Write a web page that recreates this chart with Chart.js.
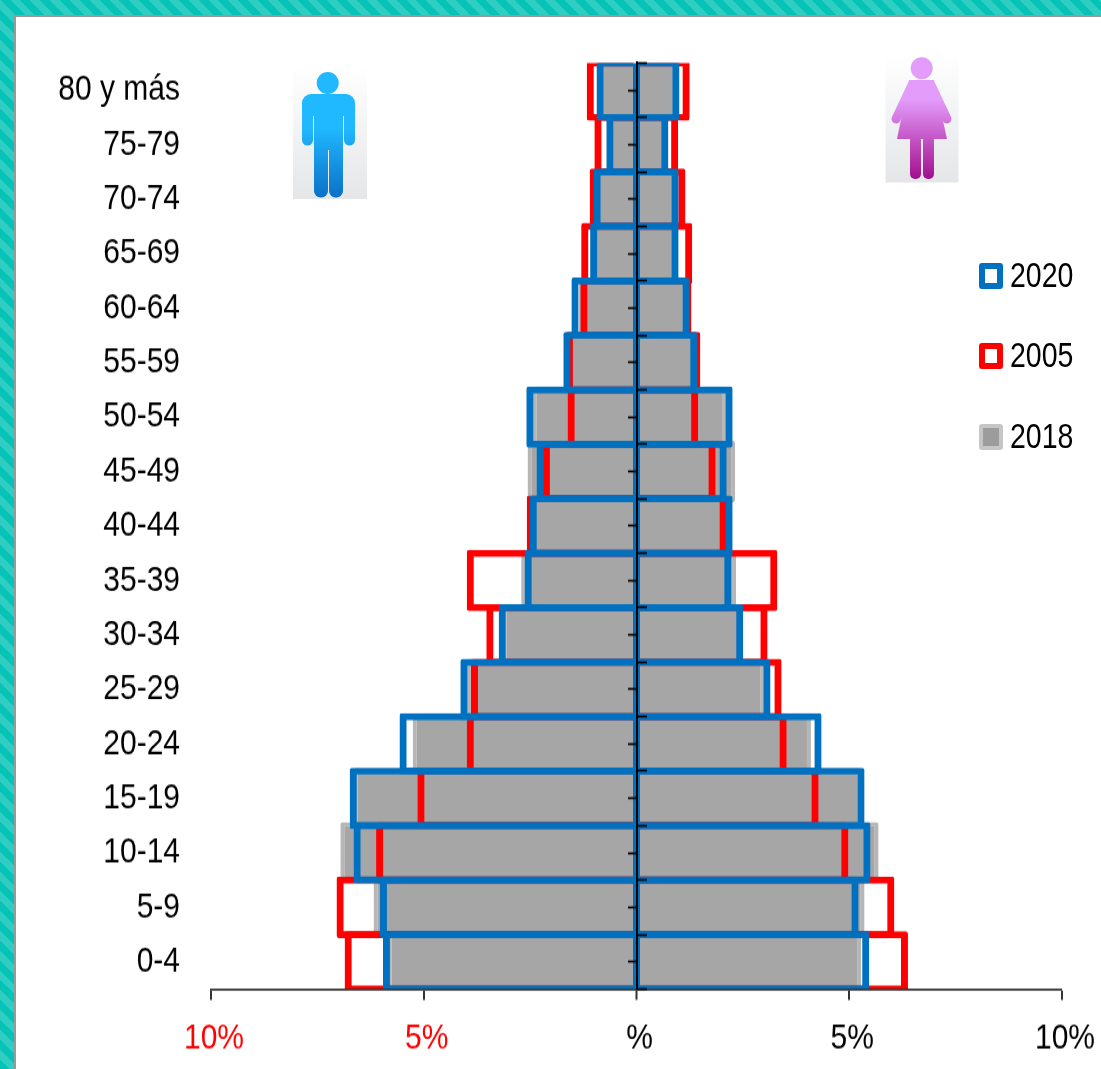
<!DOCTYPE html>
<html>
<head>
<meta charset="utf-8">
<style>
    html, body { margin: 0; padding: 0; width: 1101px; height: 1069px; overflow: hidden; }
    body { position: relative; background: repeating-linear-gradient(45deg, #05c4b7 0 7px, #2fcdc2 7px 14px); }
    #panel { position: absolute; left: 14px; top: 15px; width: 1087px; height: 1054px; box-sizing: border-box; background: #fff; border: solid #999; border-width: 2px 0 0 2px; }
    /* la imagen original esta estirada en vertical */
    #piramide { position: absolute; left: 0; top: 0; transform: scaleY(1.2011); transform-origin: 0 0; }
    #iconos { position: absolute; left: 0; top: 0; }
    .leyenda { position: absolute; left: 979px; height: 26px; font: 28.5px "Liberation Sans", sans-serif; line-height: 26px; color: #000; white-space: nowrap; }
    .leyenda i { position: absolute; left: 0; top: 0; width: 24px; height: 26px; box-sizing: border-box; border-radius: 3px; border: 6.5px solid; }
    .leyenda span { position: absolute; left: 31px; top: -1px; transform: scaleY(1.2); transform-origin: 0 50%; }
</style>
</head>
<body>
<div id="panel"></div>
<svg id="iconos" width="1101" height="1069" viewBox="0 0 1101 1069">
    <defs>
        <linearGradient id="fondo" x1="0" y1="0" x2="0" y2="1"><stop offset="0" stop-color="#fff"/><stop offset="1" stop-color="#e4e6e8"/></linearGradient>
        <linearGradient id="azul" gradientUnits="userSpaceOnUse" x1="0" y1="72" x2="0" y2="197"><stop offset="0.45" stop-color="#20b8ff"/><stop offset="1" stop-color="#0a72c8"/></linearGradient>
        <linearGradient id="lila" gradientUnits="userSpaceOnUse" x1="0" y1="57" x2="0" y2="178"><stop offset="0.35" stop-color="#e49cfb"/><stop offset="1" stop-color="#a3108f"/></linearGradient>
    </defs>
    <rect x="293" y="66" width="74" height="133" fill="url(#fondo)"/>
    <g fill="url(#azul)">
        <circle cx="327.7" cy="83" r="11"/>
        <rect x="302" y="94" width="53" height="22" rx="9"/>
        <rect x="302" y="100" width="11" height="45.5" rx="5.5"/>
        <rect x="344" y="100" width="11" height="45.5" rx="5.5"/>
        <rect x="314" y="100" width="29" height="50"/>
        <rect x="314" y="130" width="14" height="67.5" rx="6.5"/>
        <rect x="329" y="130" width="14" height="67.5" rx="6.5"/>
    </g>
    <rect x="885.5" y="53" width="73" height="129.5" fill="url(#fondo)"/>
    <g fill="url(#lila)">
        <circle cx="921.7" cy="68.3" r="11"/>
        <polygon points="909,80 934,80 947,139 897,139"/>
        <rect x="910" y="135" width="11" height="44" rx="5"/>
        <rect x="923" y="135" width="11" height="44" rx="5"/>
    </g>
    <g stroke="url(#lila)" stroke-width="9" stroke-linecap="round">
        <line x1="912" y1="85" x2="896" y2="119"/>
        <line x1="931" y1="85" x2="947" y2="119"/>
    </g>
</svg>
<canvas id="piramide" width="1101" height="890"></canvas>
<div id="leyendas"></div>

<script src="https://cdn.jsdelivr.net/npm/chart.js@4"></script>
<script>
const grupos = ['80 y más', '75-79', '70-74', '65-69', '60-64', '55-59', '50-54', '45-49', '40-44', '35-39', '30-34', '25-29', '20-24', '15-19', '10-14', '5-9', '0-4'];
const etiquetasX = ['10%', '5%', '%', '5%', '10%'];

// hombres van en negativo, mujeres en positivo
const hombres2020 = [-0.94, -0.71, -1.01, -1.09, -1.53, -1.72, -2.59, -2.35, -2.51, -2.63, -3.24, -4.14, -5.57, -6.74, -6.65, -6.03, -5.96];
const mujeres2020 = [1.01, 0.75, 0.99, 0.99, 1.25, 1.43, 2.26, 2.12, 2.26, 2.23, 2.51, 3.15, 4.35, 5.36, 5.5, 5.22, 5.47];
const hombres2005 = [-1.17, -0.99, -1.1, -1.3, -1.32, -1.66, -1.62, -2.2, -2.58, -3.99, -3.53, -3.89, -3.99, -5.15, -6.12, -7.05, -6.86];
const mujeres2005 = [1.25, 0.98, 1.15, 1.31, 1.29, 1.5, 1.45, 1.86, 2.12, 3.31, 3.08, 3.41, 3.53, 4.28, 4.98, 6.06, 6.38];
const hombres2018 = [-0.88, -0.68, -1.0, -1.05, -1.35, -1.65, -2.44, -2.56, -2.48, -2.71, -3.15, -4.0, -5.26, -6.65, -6.96, -6.18, -5.85];
const mujeres2018 = [0.95, 0.7, 0.95, 0.95, 1.2, 1.4, 2.12, 2.32, 2.2, 2.34, 2.5, 3.0, 4.1, 5.28, 5.69, 5.36, 5.28];

const anios = ['2020', '2005', '2018'];
const azul = '#0070c0';
const rojo = '#ff0000';
const gris = '#a6a6a6';
const grisBorde = '#b6b6b6';

const fuente = '"Liberation Sans", sans-serif';

function barra(label, data, borde, fondo, anchoX, anchoY) {
    return {
        label: label,
        data: data,
        borderColor: borde,
        backgroundColor: fondo,
        borderWidth: { left: anchoX, right: anchoX, top: anchoY, bottom: anchoY },
        borderSkipped: 'start',
        borderRadius: 2,
        grouped: false,
        categoryPercentage: 1,
        barPercentage: 1.125
    };
}

new Chart(document.getElementById('piramide').getContext('2d'), {
    type: 'bar',
    data: {
        labels: grupos,
        datasets: [
            barra('2020 H', hombres2020, azul, 'transparent', 7, 5.7),
            barra('2020 M', mujeres2020, azul, 'transparent', 7, 5.7),
            barra('2005 H', hombres2005, rojo, 'transparent', 7, 5.7),
            barra('2005 M', mujeres2005, rojo, 'transparent', 7, 5.7),
            barra('2018 H', hombres2018, grisBorde, gris, 4, 3),
            barra('2018 M', mujeres2018, grisBorde, gris, 4, 3)
        ]
    },
    options: {
        indexAxis: 'y',
        responsive: false,
        animation: false,
        layout: { autoPadding: false, padding: { top: 52.4, right: 39 } },
        plugins: { legend: { display: false }, tooltip: { enabled: false } },
        scales: {
            x: {
                min: -10,
                max: 10,
                ticks: {
                    stepSize: 5,
                    maxRotation: 0,
                    padding: 14,
                    labelOffset: 3,
                    font: { family: fuente, size: 30 },
                    color: c => c.tick.value < 0 ? rojo : '#000',
                    callback: (v, i) => etiquetasX[i]
                },
                grid: {
                    z: 1,
                    color: azul,
                    lineWidth: c => c.tick.value === 0 ? 7 : 0,
                    tickColor: '#333',
                    tickWidth: 2,
                    tickLength: 9
                },
                border: { color: '#333', width: 1.7, z: 1 },
                afterFit: s => { s.height = 66.6; s.paddingLeft = 0; s.paddingRight = 0; }
            },
            y: {
                type: 'category',
                labels: grupos,
                offset: true,
                position: 'left',
                ticks: { padding: 23, color: '#000', font: { family: fuente, size: 30 } },
                grid: { display: false },
                border: { display: false },
                afterFit: s => { s.width = 211; }
            },
            // marcas centrales, entre grupos hacia la izquierda
            yBorde: {
                type: 'category',
                labels: grupos,
                offset: true,
                position: { x: 0 },
                ticks: { display: false },
                grid: { z: 2, offset: true, drawOnChartArea: false, tickColor: '#000', tickWidth: 1.7, tickLength: -11 },
                border: { color: '#000', width: 2, z: 2 },
                afterFit: s => { s.width = 0; }
            },
            // y en el centro de cada grupo hacia la derecha
            yCentro: {
                type: 'category',
                labels: grupos,
                offset: true,
                position: { x: 0 },
                ticks: { display: false },
                grid: { z: 2, offset: false, drawOnChartArea: false, tickColor: '#000', tickWidth: 1.7, tickLength: 9 },
                border: { display: false },
                afterFit: s => { s.width = 0; }
            }
        }
    }
});

// leyenda a mano porque va separada y a la derecha
const coloresLeyenda = [azul, rojo, '#c6c6c6'];
const topLeyenda = [263, 343, 424];
anios.forEach((a, i) => {
    const d = document.createElement('div');
    d.className = 'leyenda';
    d.style.top = topLeyenda[i] + 'px';
    const grueso = i === 2 ? 'border-width:4px;' : '';
    d.innerHTML = '<i style="' + grueso + 'border-color:' + coloresLeyenda[i] + ';background:' + (i === 2 ? '#9c9c9c' : '#fff') + '"></i><span>' + a + '</span>';
    document.getElementById('leyendas').appendChild(d);
});
</script>
</body>
</html>
